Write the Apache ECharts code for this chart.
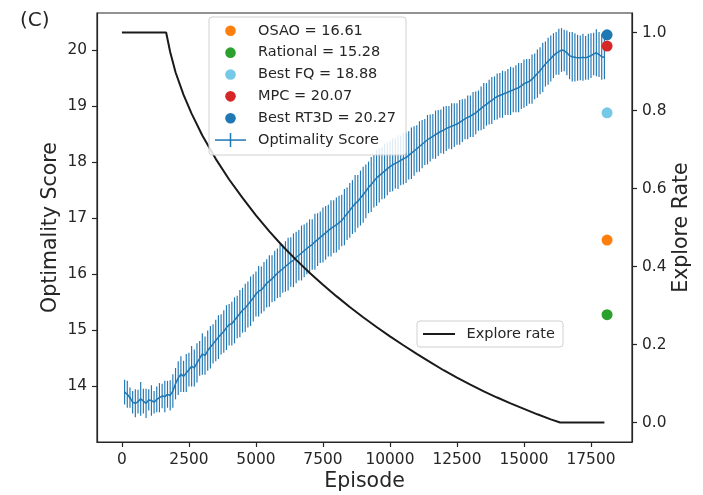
<!DOCTYPE html>
<html>
<head>
<meta charset="utf-8">
<script src="https://cdn.jsdelivr.net/npm/echarts@6/dist/echarts.min.js"></script>
<style>
  html, body { margin: 0; padding: 0; background: #fff; }
  #chart { width: 703px; height: 495px; }
</style>
</head>
<body>
<div id="chart"></div>
<script>
// Training curve: mean optimality score (with spread) every 100 episodes
const episodeStart = 100;
const episodeStep = 100;
const scoreMean = [
  13.90, 13.86, 13.80, 13.72, 13.70, 13.73, 13.78, 13.74, 13.70, 13.76,
  13.75, 13.72, 13.77, 13.80, 13.83, 13.82, 13.86, 13.84, 13.92, 14.05,
  14.15, 14.22, 14.18, 14.24, 14.30, 14.36, 14.33, 14.42, 14.50, 14.58,
  14.55, 14.64, 14.70, 14.76, 14.82, 14.88, 14.93, 14.98, 15.05, 15.10,
  15.12, 15.18, 15.24, 15.30, 15.36, 15.40, 15.46, 15.52, 15.58, 15.65,
  15.70, 15.72, 15.78, 15.84, 15.88, 15.92, 15.97, 16.02, 16.06, 16.10,
  16.14, 16.18, 16.22, 16.25, 16.30, 16.34, 16.38, 16.42, 16.46, 16.50,
  16.53, 16.58, 16.62, 16.66, 16.70, 16.74, 16.78, 16.82, 16.85, 16.88,
  16.92, 16.96, 17.02, 17.08, 17.14, 17.20, 17.26, 17.30, 17.36, 17.42,
  17.48, 17.55, 17.60, 17.66, 17.72, 17.76, 17.80, 17.84, 17.88, 17.92,
  17.95, 17.98, 18.00, 18.03, 18.06, 18.08, 18.12, 18.16, 18.20, 18.24,
  18.28, 18.32, 18.36, 18.40, 18.43, 18.46, 18.49, 18.52, 18.55, 18.57,
  18.60, 18.62, 18.64, 18.66, 18.68, 18.71, 18.74, 18.77, 18.80, 18.82,
  18.85, 18.88, 18.92, 18.96, 19.00, 19.03, 19.07, 19.10, 19.14, 19.17,
  19.19, 19.21, 19.23, 19.25, 19.27, 19.29, 19.31, 19.33, 19.36, 19.40,
  19.42, 19.44, 19.48, 19.53, 19.58, 19.63, 19.69, 19.75, 19.80, 19.85,
  19.90, 19.94, 19.97, 20.00, 19.99, 19.95, 19.90, 19.88, 19.87, 19.86,
  19.86, 19.87, 19.86, 19.88, 19.90, 19.93, 19.95, 19.92, 19.88, 19.87
];
const scoreErr = [
  0.22, 0.24, 0.18, 0.20, 0.25, 0.21, 0.30, 0.22, 0.26, 0.19,
  0.27, 0.20, 0.23, 0.26, 0.22, 0.28, 0.24, 0.27, 0.30, 0.28,
  0.30, 0.32, 0.28, 0.34, 0.30, 0.36, 0.33, 0.35, 0.31, 0.37,
  0.34, 0.36, 0.38, 0.35, 0.37, 0.39, 0.36, 0.38, 0.40, 0.37,
  0.39, 0.41, 0.38, 0.42, 0.40, 0.43, 0.41, 0.44, 0.42, 0.40,
  0.45, 0.42, 0.44, 0.43, 0.46, 0.42, 0.45, 0.44, 0.47, 0.43,
  0.45, 0.47, 0.44, 0.48, 0.46, 0.45, 0.49, 0.47, 0.46, 0.48,
  0.45, 0.50, 0.47, 0.46, 0.49, 0.48, 0.46, 0.50, 0.47, 0.49,
  0.48, 0.46, 0.50, 0.47, 0.49, 0.48, 0.51, 0.47, 0.49, 0.50,
  0.48, 0.46, 0.49, 0.47, 0.50, 0.48, 0.46, 0.49, 0.47, 0.45,
  0.47, 0.45, 0.48, 0.44, 0.46, 0.45, 0.43, 0.46, 0.44, 0.42,
  0.45, 0.43, 0.41, 0.44, 0.42, 0.40, 0.43, 0.41, 0.39, 0.42,
  0.40, 0.38, 0.41, 0.39, 0.37, 0.40, 0.38, 0.36, 0.39, 0.37,
  0.40, 0.38, 0.36, 0.39, 0.41, 0.38, 0.40, 0.42, 0.39, 0.41,
  0.40, 0.42, 0.39, 0.41, 0.43, 0.40, 0.42, 0.44, 0.41, 0.43,
  0.42, 0.40, 0.44, 0.41, 0.43, 0.42, 0.44, 0.40, 0.42, 0.41,
  0.40, 0.38, 0.41, 0.39, 0.37, 0.40, 0.42, 0.44, 0.43, 0.41,
  0.40, 0.42, 0.39, 0.41, 0.40, 0.38, 0.42, 0.40, 0.41, 0.39
];

// Exploration schedule (right axis)
const exploreEpisodes = [0, 1650, 1800, 2000, 2300, 2600, 3000, 3500, 4000, 4500, 5000,
  5500, 6000, 6500, 7000, 7500, 8000, 8500, 9000, 9500, 10000, 10500, 11000,
  11500, 12000, 12500, 13000, 13500, 14000, 14500, 15000, 15500, 16000, 16350, 18000];
const exploreRate = [1.0, 1.0, 0.95, 0.898, 0.84, 0.792, 0.736, 0.676, 0.623, 0.576, 0.531,
  0.490, 0.452, 0.417, 0.384, 0.353, 0.324, 0.296, 0.270, 0.245, 0.221, 0.198, 0.176,
  0.155, 0.134, 0.115, 0.097, 0.080, 0.064, 0.049, 0.035, 0.021, 0.008, 0.0, 0.0];

// Baseline reference scores
const baselineNames = ['OSAO', 'Rational', 'Best FQ', 'MPC', 'Best RT3D'];
const baselineScores = [16.61, 15.28, 18.88, 20.07, 20.27];
const baselineEpisode = 18100;

// Tick labels
const xTicks = [0, 2500, 5000, 7500, 10000, 12500, 15000, 17500];
const scoreTicks = [14, 15, 16, 17, 18, 19, 20];
const rateTicks = [0.0, 0.2, 0.4, 0.6, 0.8, 1.0];

const baselineColors = ['#ff7f0e', '#2ca02c', '#76c9e6', '#d62728', '#1f77b4'];
const blue = '#1f77b4';
const FONT = 'DejaVu Sans';
const INK = '#262626';

const scoreData = scoreMean.map((m, i) => [episodeStart + i * episodeStep, m, scoreErr[i]]);
const exploreData = exploreEpisodes.map((e, i) => [e, exploreRate[i]]);

const series = [
  {
    name: 'Optimality Score',
    type: 'custom',
    xAxisIndex: 0, yAxisIndex: 0,
    data: scoreData,
    z: 2,
    renderItem: function (params, api) {
      const x = api.value(0), m = api.value(1), e = api.value(2);
      const p1 = api.coord([x, m - e]);
      const p2 = api.coord([x, m + e]);
      return {
        type: 'line',
        shape: { x1: p1[0], y1: p1[1], x2: p2[0], y2: p2[1] },
        style: { stroke: blue, lineWidth: 1.15 }
      };
    },
    encode: { x: 0, y: 1 }
  },
  {
    name: 'Optimality Score mean',
    type: 'line',
    xAxisIndex: 0, yAxisIndex: 0,
    data: scoreData.map(d => [d[0], d[1]]),
    showSymbol: false,
    lineStyle: { color: blue, width: 1.5 },
    z: 3
  },
  {
    name: 'Explore rate',
    type: 'line',
    xAxisIndex: 0, yAxisIndex: 1,
    data: exploreData,
    showSymbol: false,
    lineStyle: { color: '#1a1a1a', width: 2 },
    z: 4
  }
];
baselineNames.forEach((n, i) => {
  series.push({
    name: n,
    type: 'scatter',
    xAxisIndex: 0, yAxisIndex: 0,
    data: [[baselineEpisode, baselineScores[i]]],
    symbolSize: 11,
    itemStyle: { color: baselineColors[i], opacity: 1 },
    z: 5
  });
});

// Legend boxes drawn as graphics
const legendX = 209, legendY = 17, rowH = 21.85, firstRow = 30.8;
const graphics = [
  {
    type: 'rect', z: 100,
    shape: { x: legendX, y: legendY, width: 197, height: 138, r: 3 },
    style: { fill: 'rgba(255,255,255,0.85)', stroke: '#d0d0d0', lineWidth: 1 }
  }
];
baselineNames.forEach((n, i) => {
  const cy = firstRow + i * rowH;
  graphics.push({ type: 'circle', z: 101, shape: { cx: 230.5, cy: cy, r: 5.3 }, style: { fill: baselineColors[i] } });
  graphics.push({
    type: 'text', z: 101, x: 258, y: cy,
    style: { text: n + ' = ' + baselineScores[i].toFixed(2), font: '14.5px "' + FONT + '"', fill: INK, verticalAlign: 'middle', align: 'left' }
  });
});
const errRowY = firstRow + 5 * rowH;
graphics.push({ type: 'line', z: 101, shape: { x1: 215, y1: errRowY, x2: 246, y2: errRowY }, style: { stroke: blue, lineWidth: 1.5 } });
graphics.push({ type: 'line', z: 101, shape: { x1: 230.5, y1: errRowY - 7, x2: 230.5, y2: errRowY + 7 }, style: { stroke: blue, lineWidth: 1.5 } });
graphics.push({
  type: 'text', z: 101, x: 258, y: errRowY,
  style: { text: 'Optimality Score', font: '14.5px "' + FONT + '"', fill: INK, verticalAlign: 'middle', align: 'left' }
});
// second legend
graphics.push({
  type: 'rect', z: 100,
  shape: { x: 417, y: 321, width: 146, height: 26, r: 3 },
  style: { fill: 'rgba(255,255,255,0.85)', stroke: '#d0d0d0', lineWidth: 1 }
});
graphics.push({ type: 'line', z: 101, shape: { x1: 423, y1: 334, x2: 455, y2: 334 }, style: { stroke: '#1a1a1a', lineWidth: 2 } });
graphics.push({
  type: 'text', z: 101, x: 466.5, y: 334,
  style: { text: 'Explore rate', font: '14.5px "' + FONT + '"', fill: INK, verticalAlign: 'middle', align: 'left' }
});
// panel tag
graphics.push({
  type: 'text', z: 101, x: 20, y: 21,
  style: { text: '(C)', font: '20px "' + FONT + '"', fill: INK, verticalAlign: 'middle', align: 'left' }
});

const tickStyle = { show: true, inside: false, length: 5, lineStyle: { color: INK, width: 1.2 } };
const axisLineStyle = { show: true, onZero: false, lineStyle: { color: INK, width: 1.2 } };
const labelStyle = { color: INK, fontFamily: FONT, fontSize: 15.4 };
const nameStyle = { color: INK, fontFamily: FONT, fontSize: 20.5 };

const option = {
  animation: false,
  backgroundColor: '#fff',
  grid: {
    left: 97, right: 71, top: 13, bottom: 53,
    outerBoundsMode: 'none',
    show: true, borderColor: INK, borderWidth: 1.2, backgroundColor: 'transparent'
  },
  xAxis: {
    type: 'value', min: -930, max: 19030,
    name: 'Episode', nameLocation: 'middle', nameGap: 29, nameMoveOverlap: false,
    nameTextStyle: nameStyle,
    axisLine: axisLineStyle,
    axisTick: Object.assign({ customValues: xTicks }, tickStyle),
    axisLabel: Object.assign({ customValues: xTicks, margin: 10, formatter: v => String(v) }, labelStyle),
    splitLine: { show: false }
  },
  yAxis: [
    {
      type: 'value', min: 13.01, max: 20.66, position: 'left',
      name: 'Optimality Score', nameLocation: 'middle', nameGap: 36, nameMoveOverlap: false,
      nameTextStyle: nameStyle,
      axisLine: axisLineStyle,
      axisTick: Object.assign({ customValues: scoreTicks }, tickStyle),
      axisLabel: Object.assign({ customValues: scoreTicks, margin: 10, formatter: v => String(v) }, labelStyle),
      splitLine: { show: false }
    },
    {
      type: 'value', min: -0.05, max: 1.05, position: 'right',
      name: 'Explore Rate', nameLocation: 'middle', nameGap: 39, nameRotate: 90, nameMoveOverlap: false,
      nameTextStyle: nameStyle,
      axisLine: axisLineStyle,
      axisTick: Object.assign({ customValues: rateTicks }, tickStyle),
      axisLabel: Object.assign({ customValues: rateTicks, margin: 10, formatter: v => v.toFixed(1) }, labelStyle),
      splitLine: { show: false }
    }
  ],
  series: series,
  graphic: graphics
};

const chart = echarts.init(document.getElementById('chart'), null, { renderer: 'canvas' });
chart.setOption(option);
</script>
</body>
</html>
